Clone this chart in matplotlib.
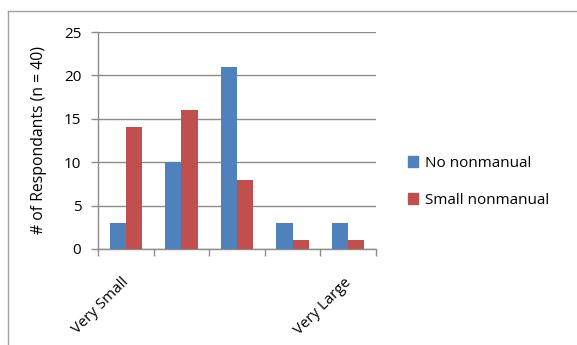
import matplotlib.pyplot as plt
import numpy as np
from matplotlib.patches import Rectangle
from matplotlib.lines import Line2D

categories = ["Very Small", "", "", "", "Very Large"]
no_nonmanual = [3, 10, 21, 3, 3]
small_nonmanual = [14, 16, 8, 1, 1]
series_names = ["No nonmanual", "Small nonmanual"]
colors = ["#4F81BD", "#C0504D"]

plt.rcParams['font.family'] = ['Open Sans', 'DejaVu Sans']

W, H = 577, 345
fig = plt.figure(figsize=(W / 100, H / 100), dpi=100)

# outer chart frame
fig.add_artist(Line2D([8 / W, 8 / W], [0, 1 - 10.5 / H], transform=fig.transFigure,
                      color="#A0A0A0", lw=1.0))
fig.add_artist(Line2D([8 / W, 1], [1 - 10.5 / H, 1 - 10.5 / H], transform=fig.transFigure,
                      color="#A0A0A0", lw=1.0))

ax = fig.add_axes([98 / W, 1 - 249 / H, (376 - 98) / W, (249 - 32) / H])

x = np.arange(len(categories))
bw = 0.29
ax.bar(x - bw / 2, no_nonmanual, bw, color=colors[0], zorder=3, label=series_names[0])
ax.bar(x + bw / 2, small_nonmanual, bw, color=colors[1], zorder=3, label=series_names[1])

ax.set_xlim(-0.5, len(categories) - 0.5)
ax.set_ylim(0, 25)
ax.set_yticks(range(0, 26, 5))
ax.yaxis.grid(True, color="#8C8C8C", lw=1.0, zorder=0)
ax.set_axisbelow(True)

for s in ["top", "right"]:
    ax.spines[s].set_visible(False)
for s in ["left", "bottom"]:
    ax.spines[s].set_color("#8C8C8C")
    ax.spines[s].set_linewidth(1.0)

# category boundary ticks, labels placed separately
ax.set_xticks(np.arange(-0.5, len(categories), 1.0))
ax.set_xticklabels([])
ax.tick_params(axis="x", length=5, color="#8C8C8C", width=1.0)
for xi, lab in zip(x, categories):
    if lab:
        ax.annotate(lab, xy=(xi, 0), xycoords=("data", "axes fraction"),
                    xytext=(1, -31), textcoords="offset pixels",
                    rotation=45, ha="right", va="center", rotation_mode="anchor",
                    fontsize=10.8, color="#000000")

ax.tick_params(axis="y", length=5, color="#8C8C8C", width=1.0, labelsize=11, pad=7)
ax.set_ylabel("# of Respondants (n = 40)", fontsize=11.3, labelpad=12)

# legend
handles = [Rectangle((0, 0), 1, 1, color=c) for c in colors]
fig.legend(handles, series_names, loc="center left", bbox_to_anchor=(394 / W, 1 - 182 / H),
           frameon=False, fontsize=11, handlelength=0.7, handleheight=0.7,
           handletextpad=0.4, labelspacing=1.45)

fig.savefig("out.png", dpi=100)
